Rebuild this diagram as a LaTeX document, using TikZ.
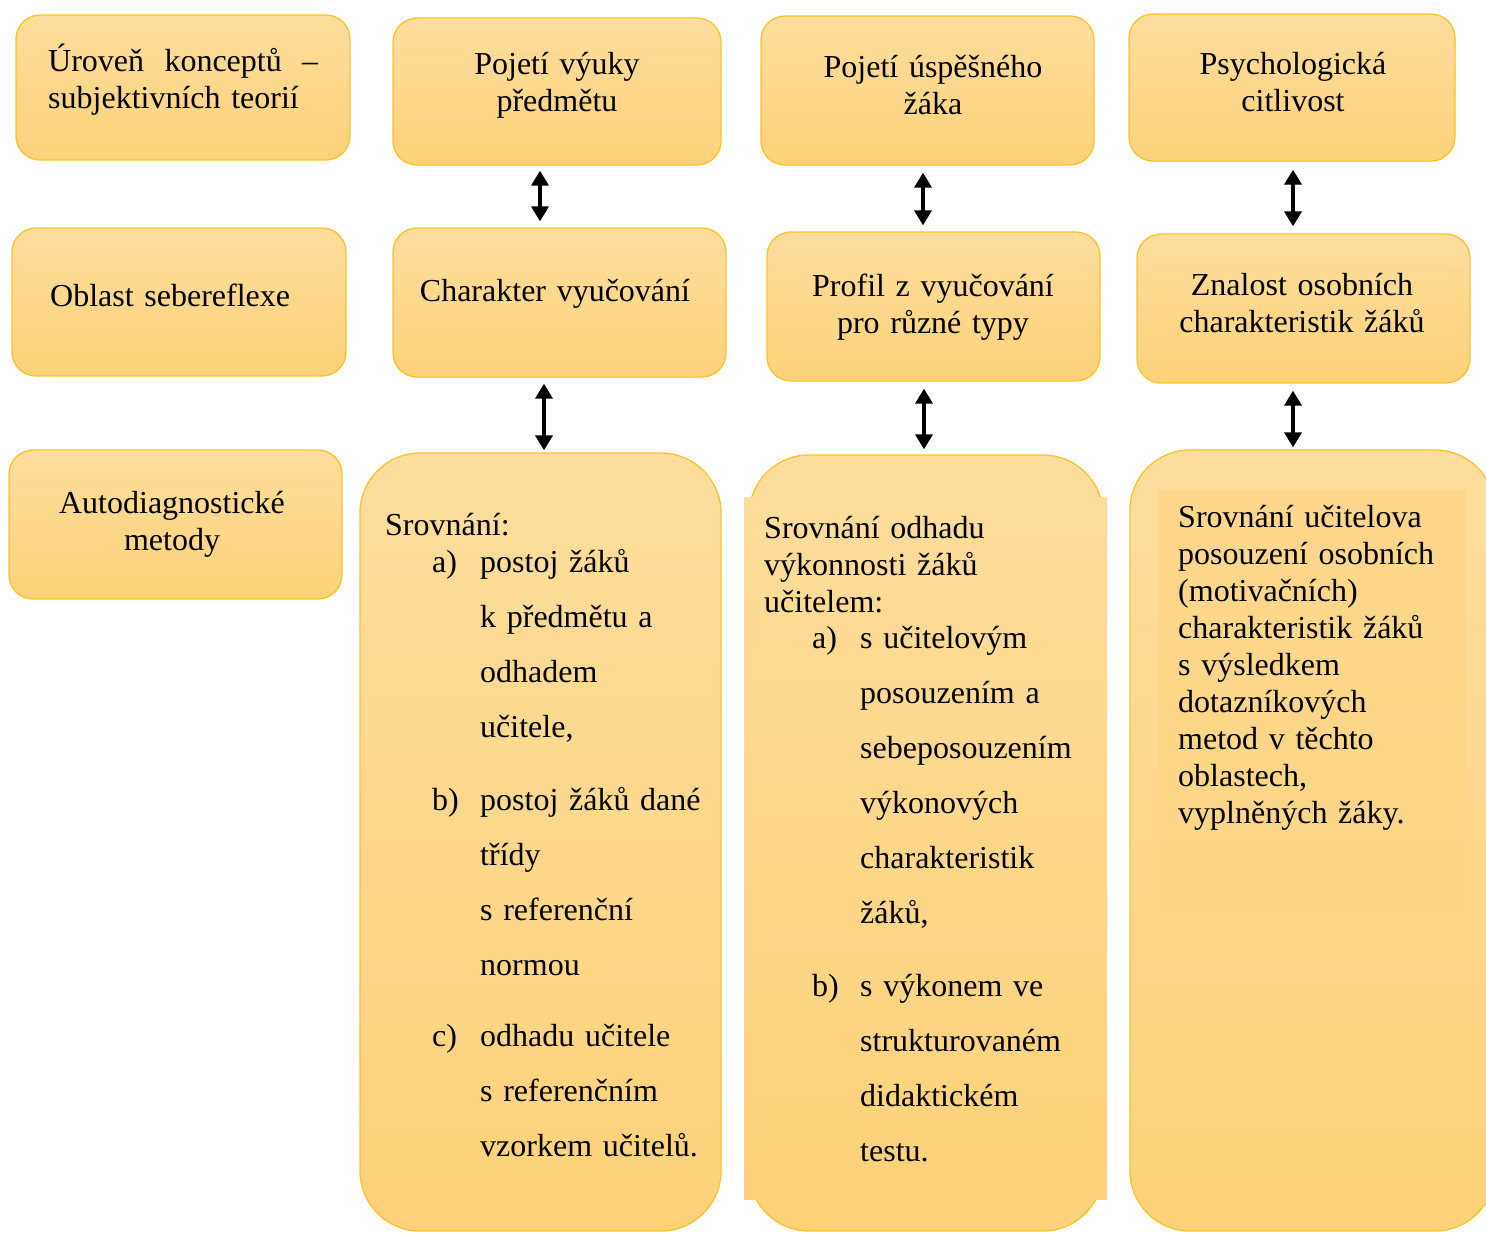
\documentclass[tikz,border=0pt]{standalone}
\usepackage{fontspec}
\setmainfont{Liberation Serif}
\usetikzlibrary{arrows.meta}
\definecolor{boxtop}{HTML}{FEDD9D}
\definecolor{boxbot}{HTML}{FED27A}
\definecolor{boxedge}{HTML}{FCC32A}
\begin{document}
\begin{tikzpicture}[x=1pt,y=-1pt,
  box/.style={draw=boxedge, line width=1.3pt, rounded corners=24pt, top color=boxtop, bottom color=boxbot, inner sep=0pt},
  bigbox/.style={box, rounded corners=60pt},
  ltxt/.style={inner sep=0pt, font=\fontsize{32}{37}\selectfont, anchor=base west, align=left, text width=#1},
  ltxt/.default=340pt,
  ctxt/.style={inner sep=0pt, font=\fontsize{32}{37}\selectfont, anchor=base, align=center, text width=#1},
  ctxt/.default=320pt,
  listtxt/.style={inner sep=0pt, font=\fontsize{32}{55}\selectfont, anchor=base west, align=left, text width=260pt},
  lbl/.style={inner sep=0pt, font=\fontsize{32}{37}\selectfont, anchor=base west},
  dbl/.style={{Triangle[width=17pt,length=15pt]}-{Triangle[width=17pt,length=15pt]}, line width=3.6pt, black}
]
\path[use as bounding box, clip] (0,0) rectangle (1486,1232);

% row 1
\node[box, minimum width=334pt, minimum height=145pt] (a1) at (183,87.5) {};
\node[box, minimum width=328pt, minimum height=147pt] (b1) at (557,91.5) {};
\node[box, minimum width=333pt, minimum height=149pt] (c1) at (927.5,90.5) {};
\node[box, minimum width=326pt, minimum height=147pt] (d1) at (1292,87.5) {};
% row 2
\node[box, minimum width=334pt, minimum height=148pt] (a2) at (179,302) {};
\node[box, minimum width=333pt, minimum height=149pt] (b2) at (559.5,302.5) {};
\node[box, minimum width=333pt, minimum height=149pt] (c2) at (933.5,306.5) {};
\node[box, minimum width=333pt, minimum height=149pt] (d2) at (1303.5,308.5) {};
% row 3
\node[box, minimum width=333pt, minimum height=149pt] (a3) at (175.5,524.5) {};
\node[bigbox, minimum width=361pt, minimum height=778pt] (b3) at (540.5,842) {};
\node[bigbox, minimum width=354pt, minimum height=776pt] (c3) at (926,843) {};
\node[bigbox, minimum width=365pt, minimum height=781pt] (d3) at (1312.5,840.5) {};
% text-box overlays
\node[inner sep=0pt, top color=boxtop!92!boxbot, bottom color=boxbot, minimum width=363pt, minimum height=702pt] (c3in) at (925.5,848) {};
\node[inner sep=0pt, fill=boxbot!70!boxtop, opacity=0.6, minimum width=308pt, minimum height=422pt] (d3in) at (1312,701) {};

% texts row 1
\node[ltxt=270pt] (ta1) at (48,71) {Úroveň\hfill konceptů\hfill –\\subjektivních teorií};
\node[ctxt] (tb1) at (557,74) {Pojetí výuky\\předmětu};
\node[ctxt] (tc1) at (933,77) {Pojetí úspěšného\\žáka};
\node[ctxt] (td1) at (1293,74) {Psychologická\\citlivost};
% texts row 2
\node[ltxt] (ta2) at (50,306) {Oblast sebereflexe};
\node[ctxt] (tb2) at (555,301) {Charakter vyučování};
\node[ctxt] (tc2) at (933,296) {Profil z vyučování\\pro různé typy};
\node[ctxt] (td2) at (1302,295) {Znalost osobních\\charakteristik žáků};
% texts row 3
\node[ctxt] (ta3) at (172,513) {Autodiagnostické\\metody};

\node[ltxt=320pt] (tb3) at (385,535) {Srovnání:};
\node[lbl] (lb3a) at (432,572) {a)};
\node[listtxt] (tb3a) at (480,572) {postoj žáků\\k předmětu a\\odhadem\\učitele,};
\node[lbl] (lb3b) at (432,810) {b)};
\node[listtxt] (tb3b) at (480,810) {postoj žáků dané\\třídy\\s referenční\\normou};
\node[lbl] (lb3c) at (432,1046) {c)};
\node[listtxt] (tb3c) at (480,1046) {odhadu učitele\\s referenčním\\vzorkem učitelů.};

\node[ltxt=330pt] (tc3) at (764,538) {Srovnání odhadu\\výkonnosti žáků\\učitelem:};
\node[lbl] (lc3a) at (812,648) {a)};
\node[listtxt] (tc3a) at (860,648) {s učitelovým\\posouzením a\\sebeposouzením\\výkonových\\charakteristik\\žáků,};
\node[lbl] (lc3b) at (812,996) {b)};
\node[listtxt] (tc3b) at (860,996) {s výkonem ve\\strukturovaném\\didaktickém\\testu.};

\node[ltxt=300pt] (td3) at (1178,527) {Srovnání učitelova\\posouzení osobních\\(motivačních)\\charakteristik žáků\\s výsledkem\\dotazníkových\\metod v těchto\\oblastech,\\vyplněných žáky.};

% arrows
\draw[dbl] ([xshift=-17pt,yshift=-5pt]b1.south) -- ([xshift=-19.5pt,yshift=6pt]b2.north);
\draw[dbl] ([xshift=-15.5pt,yshift=-6pt]b2.south) -- ([xshift=3.5pt,yshift=2pt]b3.north);
\draw[dbl] ([xshift=-4.5pt,yshift=-7pt]c1.south) -- ([xshift=-10.5pt,yshift=6pt]c2.north);
\draw[dbl] ([xshift=-9.5pt,yshift=-7pt]c2.south) -- ([xshift=-2pt,yshift=5pt]c3.north);
\draw[dbl] ([xshift=1pt,yshift=-8pt]d1.south) -- ([xshift=-10.5pt,yshift=7pt]d2.north);
\draw[dbl] ([xshift=-10.5pt,yshift=-7pt]d2.south) -- ([xshift=-19.5pt,yshift=2pt]d3.north);
\end{tikzpicture}
\end{document}
